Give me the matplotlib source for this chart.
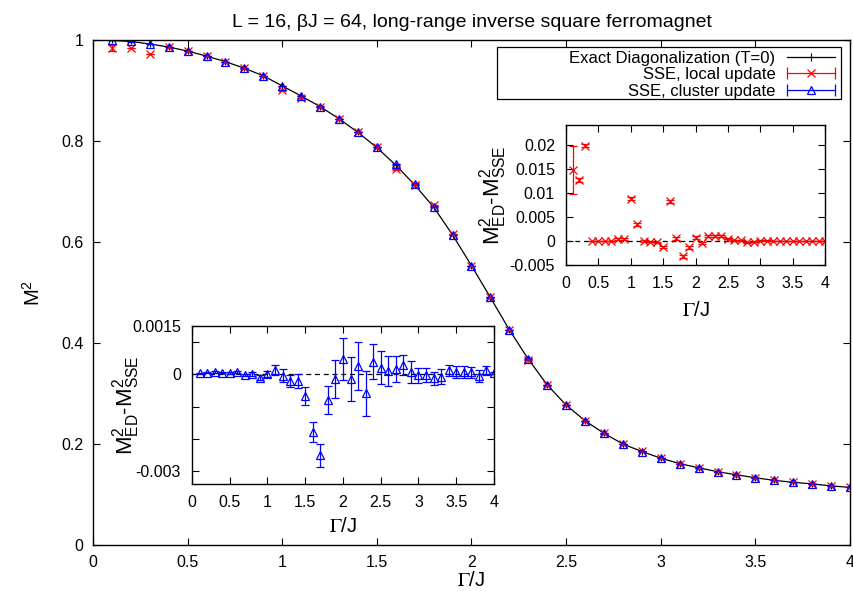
import numpy as np
import matplotlib
matplotlib.use("Agg")
import matplotlib.pyplot as plt
from matplotlib.lines import Line2D
from matplotlib.patches import Rectangle
from matplotlib.legend_handler import HandlerBase

plt.rcParams['font.family'] = ['Liberation Sans', 'DejaVu Sans']
plt.rcParams['mathtext.fontset'] = 'stix'

# transverse field values
gamma = [0.1, 0.2, 0.3, 0.4, 0.5, 0.6, 0.7, 0.8, 0.9, 1.0,
         1.1, 1.2, 1.3, 1.4, 1.5, 1.6, 1.7, 1.8, 1.9, 2.0,
         2.1, 2.2, 2.3, 2.4, 2.5, 2.6, 2.7, 2.8, 2.9, 3.0,
         3.1, 3.2, 3.3, 3.4, 3.5, 3.6, 3.7, 3.8, 3.9, 4.0]

# exact diagonalization M^2
m2_ed = [0.999, 0.997, 0.992, 0.986, 0.978, 0.968, 0.957, 0.944, 0.929, 0.909,
         0.889, 0.868, 0.844, 0.817, 0.787, 0.752, 0.713, 0.669, 0.614, 0.553,
         0.490, 0.426, 0.368, 0.317, 0.277, 0.246, 0.221, 0.200, 0.185, 0.172,
         0.161, 0.153, 0.145, 0.139, 0.133, 0.128, 0.124, 0.121, 0.117, 0.114]

# M^2_ED - M^2_SSE, local update
diff_local = [0.0149, 0.0128, 0.0199, 0.0, 0.0, 0.0, 0.0, 0.0004, 0.0005, 0.0088,
              0.0035, 0.0, -0.0001, -0.0003, -0.0013, 0.0083, 0.0006, -0.0032, -0.0013, 0.0007,
              -0.0004, 0.0010, 0.0010, 0.0011, 0.0005, 0.0002, 0.0002, -0.0003, -0.0002, 0.0001,
              0.0001, 0.0, 0.0, 0.0, 0.0, 0.0, 0.0, 0.0, 0.0, 0.0]
err_local = [0.005, 0.0004, 0.0003, 0.00005, 0.00005, 0.00005, 0.00005, 0.0002, 0.0002, 0.0003,
             0.0003, 0.0002, 0.0002, 0.0002, 0.0002, 0.0003, 0.0003, 0.0003, 0.0003, 0.0003,
             0.0002, 0.0002, 0.0002, 0.0002, 0.0001, 0.0001, 0.0001, 0.0001, 0.0001, 0.0001,
             0.00005, 0.00005, 0.00005, 0.00005, 0.00005, 0.00005, 0.00005, 0.00005, 0.00005, 0.00005]

# M^2_ED - M^2_SSE, cluster update
diff_cluster = [0.00003, 0.00005, 0.00007, 0.00005, 0.00004, 0.00006, -0.00003, 0.00001, -0.00011, 0.00001,
                0.00013, -0.00004, -0.00020, -0.00020, -0.00067, -0.00179, -0.00251, -0.00079, -0.00014, 0.00047,
                -0.00015, 0.00026, -0.00059, 0.00039, 0.00021, 0.00011, 0.00016, 0.00029, 0.00006, -0.00003,
                -0.00002, -0.00012, -0.00007, 0.00012, 0.00007, 0.00007, 0.00006, -0.00005, 0.00012, 0.00003]
err_cluster = [0.00002, 0.00002, 0.00002, 0.00002, 0.00002, 0.00003, 0.00003, 0.00005, 0.00008, 0.00008,
               0.00015, 0.00020, 0.00018, 0.00022, 0.00027, 0.00031, 0.00036, 0.00043, 0.00060, 0.00066,
               0.00068, 0.00074, 0.00070, 0.00054, 0.00050, 0.00046, 0.00040, 0.00031, 0.00034, 0.00024,
               0.00023, 0.00020, 0.00023, 0.00018, 0.00018, 0.00018, 0.00017, 0.00018, 0.00015, 0.00003]

xticks = [0, 0.5, 1, 1.5, 2, 2.5, 3, 3.5, 4]
xticklabels = ['0', '0.5', '1', '1.5', '2', '2.5', '3', '3.5', '4']

gamma = np.array(gamma)
m2_ed = np.array(m2_ed)
m2_local = m2_ed - np.array(diff_local)
m2_cluster = m2_ed - np.array(diff_cluster)

RED = '#ff0000'
BLUE = '#0000ff'
DIFF_LABEL = r'$\mathregular{M^2_{ED}}$-$\mathregular{M^2_{SSE}}$'


class CapHandler(HandlerBase):
    # gnuplot style errorbar key: horizontal line with caps at both ends
    def create_artists(self, legend, orig, xdescent, ydescent, width, height, fontsize, trans):
        x0, x1 = -xdescent, width - xdescent
        y = (height - ydescent) / 2
        c = orig.get_color()
        line = Line2D([x0, x1], [y, y], color=c, lw=0.9)
        caps = Line2D([x0, x1], [y, y], ls='', marker='|', ms=8, mew=0.9, color=c)
        mark = Line2D([(x0 + x1) / 2], [y], ls='', marker=orig.get_marker(), ms=6,
                      mfc='none', mec=c, mew=0.9)
        for a in (line, caps, mark):
            a.set_transform(trans)
        return [line, caps, mark]


def style_axes(ax, fs=11.5, pad=6):
    ax.tick_params(direction='in', top=True, right=True, labelsize=fs, length=5, width=0.8, pad=pad)
    for s in ax.spines.values():
        s.set_linewidth(1.0)


fig = plt.figure(figsize=(8.54, 5.99), dpi=100)

# main plot
ax = fig.add_axes([0.1089, 0.0902, 0.8864, 0.8431])
ax.plot(gamma, m2_ed, color='black', lw=0.9, marker='+', ms=5, mew=0.8)
ax.errorbar(gamma, m2_local, yerr=err_local, fmt='x', color=RED, ms=6, mew=0.9,
            elinewidth=0.9, capsize=3, capthick=0.9)
ax.errorbar(gamma, m2_cluster, yerr=err_cluster, fmt='^', color=BLUE, mfc='none', ms=6,
            mew=0.9, elinewidth=0.9, capsize=3, capthick=0.9)
ax.set_xlim(0, 4)
ax.set_ylim(0, 1)
ax.set_xticks(xticks)
ax.set_xticklabels(xticklabels)
ax.set_yticks([0, 0.2, 0.4, 0.6, 0.8, 1])
ax.set_yticklabels(['0', '0.2', '0.4', '0.6', '0.8', '1'])
style_axes(ax, pad=7)
ax.set_xlabel(r'$\Gamma$/J', fontsize=14.5, labelpad=1)
ax.set_ylabel(r'$\mathregular{M^2}$', fontsize=14.5, labelpad=12)
ax.set_title('L = 16, βJ = 64, long-range inverse square ferromagnet', fontsize=14, pad=9)

# key box (gnuplot draws it wider than the text)
ax.add_patch(Rectangle((0.5337, 0.883), 0.4543, 0.103, transform=ax.transAxes,
                       facecolor='white', edgecolor='black', lw=0.9, zorder=4))
h_ed = Line2D([], [], color='black', lw=0.9, marker='+', ms=6, mew=0.8)
h_loc = Line2D([], [], color=RED, marker='x')
h_cl = Line2D([], [], color=BLUE, marker='^')
leg = ax.legend([h_ed, h_loc, h_cl],
                ['Exact Diagonalization (T=0)', 'SSE, local update', 'SSE, cluster update'],
                handler_map={h_loc: CapHandler(), h_cl: CapHandler()},
                loc='upper right', bbox_to_anchor=(0.985, 0.985), markerfirst=False,
                fontsize=12, frameon=False, handlelength=2.9, handletextpad=0.7,
                labelspacing=0.08, borderpad=0.2, borderaxespad=0, numpoints=1)
leg.set_zorder(5)

# inset: local update
ax1 = fig.add_axes([0.6628, 0.5576, 0.3033, 0.2337])
ax1.axhline(0, color='black', lw=0.9, ls=(0, (4, 3)))
ax1.errorbar(gamma, diff_local, yerr=err_local, fmt='x', color=RED, ms=6, mew=0.9,
             elinewidth=0.9, capsize=3, capthick=0.9)
ax1.set_xlim(0, 4)
ax1.set_ylim(-0.005, 0.0242)
ax1.set_xticks(xticks)
ax1.set_xticklabels(xticklabels)
ax1.set_yticks([-0.005, 0, 0.005, 0.01, 0.015, 0.02])
ax1.set_yticklabels(['-0.005', '0', '0.005', '0.01', '0.015', '0.02'])
style_axes(ax1, pad=8)
ax1.set_xlabel(r'$\Gamma$/J', fontsize=14.5, labelpad=7)
ax1.set_ylabel(DIFF_LABEL, fontsize=16)
ax1.yaxis.set_label_coords(-0.22, 0.5)

# inset: cluster update
ax2 = fig.add_axes([0.2248, 0.1920, 0.3536, 0.2638])
ax2.axhline(0, color='black', lw=0.9, ls=(0, (4, 3)))
ax2.errorbar(gamma, diff_cluster, yerr=err_cluster, fmt='^', color=BLUE, mfc='none', ms=6,
             mew=0.9, elinewidth=0.9, capsize=3, capthick=0.9)
ax2.set_xlim(0, 4)
ax2.set_ylim(-0.0034, 0.0015)
ax2.set_xticks(xticks)
ax2.set_xticklabels(xticklabels)
ax2.set_yticks([-0.003, -0.002, -0.001, 0, 0.001, 0.0015])
ax2.set_yticklabels(['-0.003', '', '', '0', '', '0.0015'])
style_axes(ax2, pad=8)
ax2.set_xlabel(r'$\Gamma$/J', fontsize=14.5, labelpad=5)
ax2.set_ylabel(DIFF_LABEL, fontsize=16)
ax2.yaxis.set_label_coords(-0.165, 0.5)

fig.savefig('out.png', dpi=100)
